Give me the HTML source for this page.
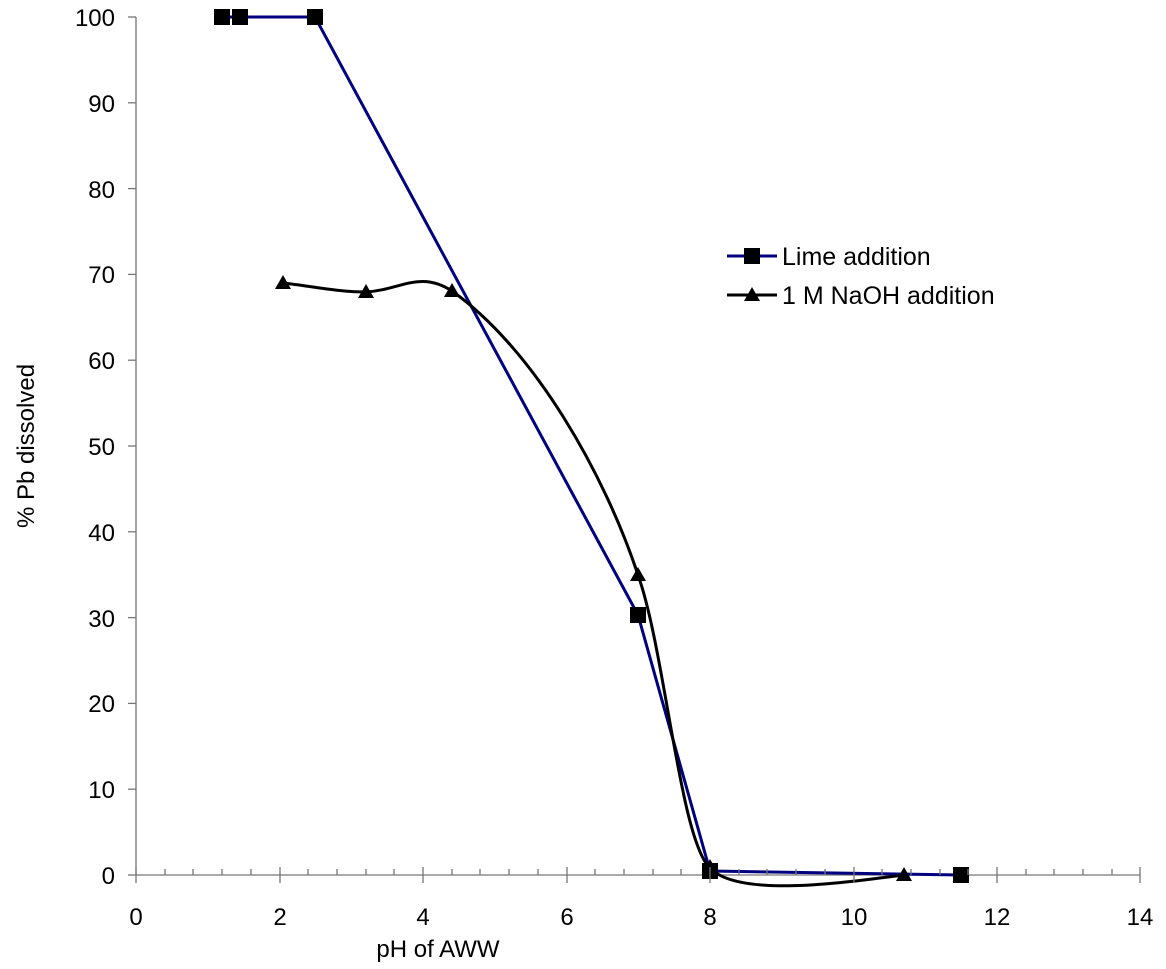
<!DOCTYPE html>
<html><head><style>body{margin:0;background:#fff}</style></head><body>
<svg width="1166" height="964" xmlns="http://www.w3.org/2000/svg" font-family="Liberation Sans, Arial, sans-serif">
<g stroke="#777" stroke-width="1.3">
<line x1="136" y1="17" x2="136" y2="875"/>
<line x1="136" y1="875" x2="1140" y2="875"/>
<line x1="128" y1="875" x2="136" y2="875"/><line x1="128" y1="789.2" x2="136" y2="789.2"/><line x1="128" y1="703.4" x2="136" y2="703.4"/><line x1="128" y1="617.6" x2="136" y2="617.6"/><line x1="128" y1="531.8" x2="136" y2="531.8"/><line x1="128" y1="446" x2="136" y2="446"/><line x1="128" y1="360.2" x2="136" y2="360.2"/><line x1="128" y1="274.4" x2="136" y2="274.4"/><line x1="128" y1="188.6" x2="136" y2="188.6"/><line x1="128" y1="102.8" x2="136" y2="102.8"/><line x1="128" y1="17" x2="136" y2="17"/>
</g>
<g font-size="24" fill="#000" text-anchor="end">
<text x="115" y="884">0</text><text x="115" y="798">10</text><text x="115" y="712">20</text><text x="115" y="627">30</text><text x="115" y="541">40</text><text x="115" y="455">50</text><text x="115" y="369">60</text><text x="115" y="283">70</text><text x="115" y="198">80</text><text x="115" y="112">90</text><text x="115" y="26">100</text>
</g>
<g font-size="24" fill="#000" text-anchor="middle">
<text x="136" y="925">0</text><text x="280" y="925">2</text><text x="423" y="925">4</text><text x="567" y="925">6</text><text x="710" y="925">8</text><text x="854" y="925">10</text><text x="997" y="925">12</text><text x="1140" y="925">14</text>
<text x="438" y="957">pH of AWW</text>
<text transform="translate(34,446) rotate(-90)">% Pb dissolved</text>
</g>
<polyline points="222,17 240,17 315,17 638,615 710,871 961,875" fill="none" stroke="#000080" stroke-width="3"/>
<path d="M283,283 C311,286 338,292 366,292 C400,290 420,270 452,291 C535,350 605,475 638,575 C665,650 680,840 710,868 C740,900 860,880 904,875" fill="none" stroke="#000" stroke-width="3"/>
<g fill="#000">
<rect x="214" y="9" width="16" height="16"/><rect x="232" y="9" width="16" height="16"/><rect x="307" y="9" width="16" height="16"/><rect x="630" y="607" width="16" height="16"/><rect x="702" y="863" width="16" height="16"/><rect x="953" y="867" width="16" height="16"/>
<polygon points="283,275 275,289 291,289"/><polygon points="366,284 358,298 374,298"/><polygon points="452,283 444,297 460,297"/><polygon points="638,567 630,581 646,581"/><polygon points="710,859 702,873 718,873"/><polygon points="904,867 896,881 912,881"/>
</g>
<line x1="727" y1="256" x2="777" y2="256" stroke="#000080" stroke-width="3"/>
<rect x="744" y="248" width="16" height="16" fill="#000"/>
<line x1="727" y1="295" x2="777" y2="295" stroke="#000" stroke-width="3"/>
<polygon points="752,287 744,301 760,301" fill="#000"/>
<g font-size="25"><text x="782" y="265">Lime addition</text><text x="782" y="304">1 M NaOH addition</text></g>
<g stroke="#777" stroke-width="1.3">
<line x1="136" y1="867" x2="136" y2="883"/><line x1="280" y1="867" x2="280" y2="883"/><line x1="423" y1="867" x2="423" y2="883"/><line x1="567" y1="867" x2="567" y2="883"/><line x1="710" y1="867" x2="710" y2="883"/><line x1="854" y1="867" x2="854" y2="883"/><line x1="997" y1="867" x2="997" y2="883"/><line x1="1140" y1="867" x2="1140" y2="883"/>
<line x1="165" y1="869" x2="165" y2="875"/><line x1="193" y1="869" x2="193" y2="875"/><line x1="222" y1="869" x2="222" y2="875"/><line x1="251" y1="869" x2="251" y2="875"/>
<line x1="308" y1="869" x2="308" y2="875"/><line x1="337" y1="869" x2="337" y2="875"/><line x1="366" y1="869" x2="366" y2="875"/><line x1="394" y1="869" x2="394" y2="875"/>
<line x1="452" y1="869" x2="452" y2="875"/><line x1="480" y1="869" x2="480" y2="875"/><line x1="509" y1="869" x2="509" y2="875"/><line x1="538" y1="869" x2="538" y2="875"/>
<line x1="595" y1="869" x2="595" y2="875"/><line x1="624" y1="869" x2="624" y2="875"/><line x1="653" y1="869" x2="653" y2="875"/><line x1="681" y1="869" x2="681" y2="875"/>
<line x1="739" y1="869" x2="739" y2="875"/><line x1="767" y1="869" x2="767" y2="875"/><line x1="796" y1="869" x2="796" y2="875"/><line x1="825" y1="869" x2="825" y2="875"/>
<line x1="882" y1="869" x2="882" y2="875"/><line x1="911" y1="869" x2="911" y2="875"/><line x1="940" y1="869" x2="940" y2="875"/><line x1="968" y1="869" x2="968" y2="875"/>
<line x1="1026" y1="869" x2="1026" y2="875"/><line x1="1054" y1="869" x2="1054" y2="875"/><line x1="1083" y1="869" x2="1083" y2="875"/><line x1="1112" y1="869" x2="1112" y2="875"/>
</g>
</svg>
</body></html>
